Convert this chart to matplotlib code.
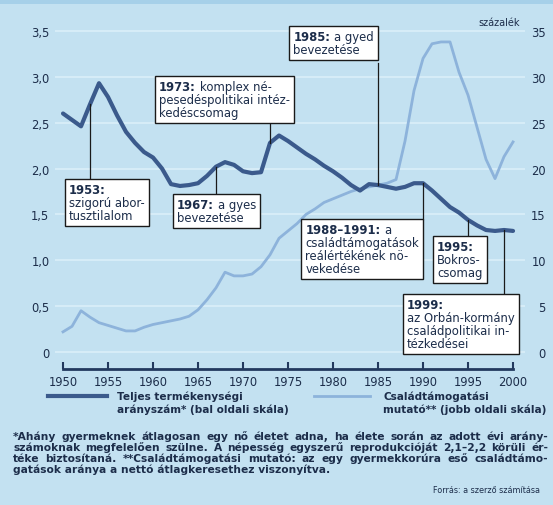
import matplotlib
matplotlib.use("Agg")
import matplotlib.pyplot as plt
from matplotlib.offsetbox import TextArea, HPacker, VPacker, AnnotationBbox
from matplotlib.lines import Line2D
from matplotlib.patches import Rectangle

plt.rcParams['font.family'] = ['DejaVu Sans']

# teljes termékenységi arányszám (bal skála) és családtámogatási mutató (jobb skála, %)
years = list(range(1950, 2001))
fertility = [2.60, 2.53, 2.46, 2.70, 2.93, 2.78, 2.58, 2.40, 2.28, 2.18,
             2.12, 2.00, 1.83, 1.81, 1.82, 1.84, 1.92, 2.02, 2.07, 2.04,
             1.97, 1.95, 1.96, 2.28, 2.36, 2.30, 2.23, 2.16, 2.10, 2.03,
             1.97, 1.90, 1.82, 1.76, 1.83, 1.82, 1.80, 1.78, 1.80, 1.84,
             1.84, 1.76, 1.67, 1.58, 1.52, 1.44, 1.38, 1.33, 1.32, 1.33,
             1.32]
support = [2.2, 2.8, 4.5, 3.8, 3.2, 2.9, 2.6, 2.3, 2.3, 2.7,
           3.0, 3.2, 3.4, 3.6, 3.9, 4.6, 5.7, 7.0, 8.7, 8.3,
           8.3, 8.5, 9.3, 10.6, 12.4, 13.2, 14.0, 15.0, 15.6, 16.3,
           16.7, 17.1, 17.5, 17.8, 18.0, 18.2, 18.4, 18.8, 23.0, 28.5,
           32.0, 33.6, 33.8, 33.8, 30.5, 28.0, 24.5, 21.0, 18.9, 21.3,
           22.9]

xticks = list(range(1950, 2001, 5))
left_ticks = [0, 0.5, 1.0, 1.5, 2.0, 2.5, 3.0, 3.5]
left_labels = ['0', '0,5', '1,0', '1,5', '2,0', '2,5', '3,0', '3,5']
right_ticks = [0, 5, 10, 15, 20, 25, 30, 35]

BG = '#c3e1f1'
GRID = '#dbeff9'
DARK = '#3b5a8c'
LIGHT = '#8db3db'
TXT = '#1c2d4a'
AXC = '#22395e'

W, H = 553, 506
fig = plt.figure(figsize=(W / 100, H / 100), dpi=100)
fig.patch.set_facecolor(BG)
fig.add_artist(Rectangle((0, 1 - 5 / H), 1, 5 / H, transform=fig.transFigure,
                         color='#a6d0e9', lw=0))

ax = fig.add_axes([55 / W, 136 / H, 470 / W, 350 / H])
ax2 = ax.twinx()
ax.set_zorder(ax2.get_zorder() + 1)
ax.patch.set_visible(False)
ax2.patch.set_visible(False)

ax.set_xlim(1949.11, 2001.33)
ax.set_ylim(-0.185, 3.63)
ax2.set_ylim(-1.85, 36.3)

for t in left_ticks:
    ax2.axhline(t * 10, color=GRID, lw=1.2, zorder=0)

ax2.plot(years, support, color=LIGHT, lw=2.0, zorder=2)
ax.plot(years, fertility, color=DARK, lw=3.0, zorder=3, solid_capstyle='round')

for s in ax.spines.values():
    s.set_visible(False)
for s in ax2.spines.values():
    s.set_visible(False)
ax.spines['bottom'].set_visible(True)
ax.spines['bottom'].set_bounds(1950, 2000)
ax.spines['bottom'].set_color(AXC)
ax.spines['bottom'].set_linewidth(2)

ax.set_xticks(xticks)
ax.set_xticklabels([str(x) for x in xticks])
ax.tick_params(axis='x', direction='in', length=5, width=1.5, color=AXC,
               labelsize=8.3, labelcolor=TXT, pad=4)
ax.set_yticks(left_ticks)
ax.set_yticklabels(left_labels)
ax.tick_params(axis='y', length=0, labelsize=8.3, labelcolor=TXT, pad=4)
ax2.set_yticks(right_ticks)
ax2.set_yticklabels([str(t) for t in right_ticks])
ax2.tick_params(axis='y', length=0, labelsize=8.3, labelcolor=TXT, pad=15)
for lab in ax2.get_yticklabels():
    lab.set_horizontalalignment('right')

fig.text(520 / W, 1 - 23 / H, 'százalék', ha='right', va='center', fontsize=7, color=TXT)


def px(x, y):
    return x / W, 1 - y / H


def note(lines, x, y, align=(0, 1)):
    rows = []
    for bold, normal in lines:
        parts = []
        if bold:
            parts.append(TextArea(bold, textprops=dict(fontsize=8.4, fontweight='bold', color=TXT)))
        if normal:
            parts.append(TextArea(normal, textprops=dict(fontsize=8.4, color=TXT)))
        rows.append(HPacker(children=parts, align='baseline', pad=0, sep=3))
    box = VPacker(children=rows, align='left', pad=0, sep=0)
    ab = AnnotationBbox(box, px(x, y), xycoords='figure fraction', box_alignment=align,
                        frameon=True, pad=0.3,
                        bboxprops=dict(facecolor='white', edgecolor='#1a1a1a', lw=1.0))
    ab.set_zorder(5)
    fig.add_artist(ab)


def connector(year, yvals, ypix):
    val = yvals[years.index(year)]
    xd, yd = ax.transData.transform((year, val))
    fig.add_artist(Line2D([xd / W, xd / W], [yd / H, 1 - ypix / H], color='#1a1a1a',
                          lw=0.9, zorder=1.5))
    return xd


connector(1953, fertility, 180)
note([('1953:', None), (None, 'szigorú abor-'), (None, 'tusztilalom')], 69, 184)

connector(1967, fertility, 195)
note([('1967:', 'a gyes'), (None, 'bevezetése')], 177, 199)

connector(1973, fertility, 125)
note([('1973:', 'komplex né-'), (None, 'pesedéspolitikai intéz-'), (None, 'kedéscsomag')], 159, 81)

x85 = connector(1985, fertility, 64)
note([('1985:', 'a gyed'), (None, 'bevezetése')], x85 - 4, 31, align=(1, 1))

x90 = connector(1990, fertility, 220)
note([('1988–1991:', 'a'), (None, 'családtámogatások'), (None, 'reálértékének nö-'),
      (None, 'vekedése')], x90 - 4, 224, align=(1, 1))

connector(1995, fertility, 237)
note([('1995:', None), (None, 'Bokros-'), (None, 'csomag')], 437, 241)

connector(1999, fertility, 295)
note([('1999:', None), (None, 'az Orbán-kormány'), (None, 'családpolitikai in-'),
      (None, 'tézkedései')], 407, 299)

# jelmagyarázat
fig.add_artist(Line2D([48 / W, 107 / W], [1 - 397 / H] * 2, color=DARK, lw=3.0))
fig.text(*px(117, 397), 'Teljes termékenységi', ha='left', va='center', fontsize=7.6,
         fontweight='bold', color=TXT)
fig.text(*px(117, 410), 'arányszám* (bal oldali skála)', ha='left', va='center', fontsize=7.6,
         fontweight='bold', color=TXT)
fig.add_artist(Line2D([314 / W, 370 / W], [1 - 397 / H] * 2, color=LIGHT, lw=2.0))
fig.text(*px(383, 397), 'Családtámogatási', ha='left', va='center', fontsize=7.6,
         fontweight='bold', color=TXT)
fig.text(*px(383, 410), 'mutató** (jobb oldali skála)', ha='left', va='center', fontsize=7.6,
         fontweight='bold', color=TXT)

# lábjegyzet, sorkizárva
foot = [
    '*Ahány gyermeknek átlagosan egy nő életet adna, ha élete során az adott évi arány-',
    'számoknak megfelelően szülne. A népesség egyszerű reprodukcióját 2,1–2,2 körüli ér-',
    'téke biztosítaná. **Családtámogatási mutató: az egy gyermekkorúra eső családtámo-',
    'gatások aránya a nettó átlagkeresethez viszonyítva.',
]
FS = 7.7
renderer = fig.canvas.get_renderer()
x_left, x_right = 13, 548
for i, line in enumerate(foot):
    y = 437 + i * 11
    words = line.split(' ')
    if i == len(foot) - 1:
        fig.text(*px(x_left, y), line, ha='left', va='center', fontsize=FS,
                 color=TXT, fontweight='bold')
        continue
    items = [fig.text(0, 0, w, ha='left', va='center', fontsize=FS, color=TXT,
                      fontweight='bold') for w in words]
    widths = [t.get_window_extent(renderer).width for t in items]
    gap = (x_right - x_left - sum(widths)) / (len(words) - 1)
    xc = x_left
    for t, w in zip(items, widths):
        t.set_position(px(xc, y))
        xc += w + gap

fig.text(*px(540, 491), 'Forrás: a szerző számítása', ha='right', va='center', fontsize=5.8,
         color=TXT)

fig.savefig('out.png', dpi=100, facecolor=BG)
